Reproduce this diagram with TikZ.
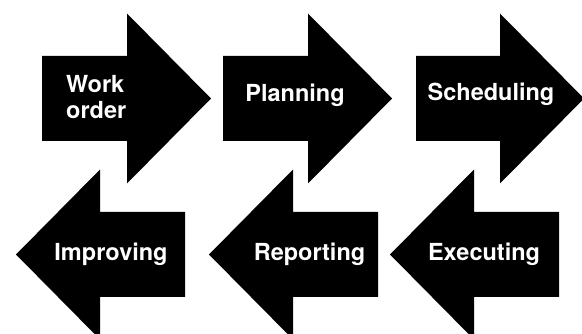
\documentclass[tikz,border=0pt]{standalone}
\usepackage{fontspec}
\setmainfont{TeX Gyre Heros}
\begin{document}
\begin{tikzpicture}[x=1pt,y=-1pt,
  lbl/.style={text=white,font=\bfseries\fontsize{23.5}{26}\selectfont,inner sep=0pt,anchor=base},
  arr/.style={fill=black,draw=none}]
\useasboundingbox (0,0) rectangle (582,334);
% right arrows: body left L, head base H, tip T, centre C
\foreach \L/\H/\T in {42/127/211, 223/308/392, 416/500/584}{
  \path[arr] (\L,56) -- (\H,56) -- (\H,13.5) -- (\T,98.5) -- (\H,183.5) -- (\H,141) -- (\L,141) -- cycle;
}
% left arrows
\foreach \R/\H/\T in {185/100/16, 378/293/209, 559/474/390}{
  \path[arr] (\R,212) -- (\H,212) -- (\H,169.5) -- (\T,254.5) -- (\H,339.5) -- (\H,297) -- (\R,297) -- cycle;
}
\node[lbl,align=left,anchor=north west] (work) at (66,75) {Work\\order};
\node[lbl] (plan) at (295,102) {Planning};
\node[lbl] (sched) at (491,101) {Scheduling};
\node[lbl] (impr) at (111,261) {Improving};
\node[lbl] (rep) at (309.5,261) {Reporting};
\node[lbl] (exec) at (484,261) {Executing};
\end{tikzpicture}
\end{document}
